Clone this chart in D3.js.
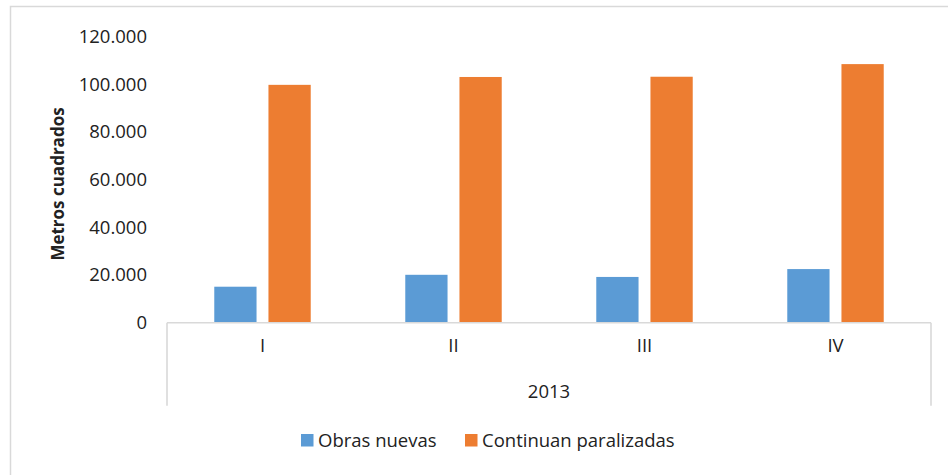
<!DOCTYPE html>
<html lang="es">
<head>
    <meta charset="UTF-8">
    <title>Metros cuadrados 2013</title>
    <style>
        body { margin: 0; background: #fff; }
        text { font-family: "Open Sans", sans-serif; fill: #222; }
    </style>
    <script src="https://cdnjs.cloudflare.com/ajax/libs/d3/7.8.5/d3.min.js"></script>
</head>
<body>
    <div id="chart"></div>
    <script>
        // data
        const categories = ["I", "II", "III", "IV"];
        const groupLabel = "2013";
        const seriesNames = ["Obras nuevas", "Continuan paralizadas"];
        const obrasNuevas = [15100, 20100, 19200, 22500];
        const continuanParalizadas = [99800, 103100, 103200, 108500];
        const yTicks = [0, 20000, 40000, 60000, 80000, 100000, 120000];
        const colors = ["#5b9bd5", "#ed7d31"];

        const width = 948, height = 475;
        const plot = { left: 167, right: 931, top: 36.7, bottom: 322.7 };

        const svg = d3.select("#chart").append("svg")
            .attr("width", width)
            .attr("height", height);

        // outer chart border (cropped at right / bottom)
        svg.append("rect")
            .attr("x", 10.5).attr("y", 6.5)
            .attr("width", 1000).attr("height", 1000)
            .attr("fill", "none")
            .attr("stroke", "#d9d9d9")
            .attr("stroke-width", 1.5);

        const x = d3.scaleBand()
            .domain(categories)
            .range([plot.left, plot.right]);

        const bw = x.bandwidth();
        const x1 = d3.scaleBand()
            .domain(seriesNames)
            .range([bw * 0.2475, bw * 0.7525])
            .paddingInner(0.22);

        const y = d3.scaleLinear()
            .domain([0, 120000])
            .range([plot.bottom, plot.top]);

        const fmt = d3.formatLocale({ decimal: ",", thousands: ".", grouping: [3], currency: ["", ""] }).format(",.0f");

        // y axis: labels only
        const yAxis = svg.append("g")
            .attr("transform", `translate(${plot.left - 20},0)`)
            .call(d3.axisLeft(y).tickValues(yTicks).tickFormat(fmt).tickSize(0).tickPadding(0));
        yAxis.select(".domain").remove();
        yAxis.selectAll("text")
            .style("font-family", "Open Sans, sans-serif")
            .style("font-size", "18.5px")
            .attr("fill", "#222");

        // bars
        const rows = categories.map((c, i) => ({ cat: c, values: [obrasNuevas[i], continuanParalizadas[i]] }));
        svg.append("g").selectAll("g")
            .data(rows)
            .join("g")
            .attr("transform", d => `translate(${x(d.cat)},0)`)
            .selectAll("rect")
            .data(d => d.values.map((v, j) => ({ key: seriesNames[j], value: v, j: j })))
            .join("rect")
            .attr("x", d => x1(d.key))
            .attr("width", x1.bandwidth())
            .attr("y", d => y(d.value))
            .attr("height", d => y(0) - y(d.value))
            .attr("fill", d => colors[d.j]);

        // category axis line and outer group separators
        const axisG = svg.append("g").attr("stroke", "#d9d9d9").attr("stroke-width", 1.6);
        axisG.append("line")
            .attr("x1", plot.left).attr("x2", plot.right)
            .attr("y1", y(0)).attr("y2", y(0));
        axisG.selectAll("line.sep")
            .data(x.range())
            .join("line")
            .attr("class", "sep")
            .attr("x1", d => d).attr("x2", d => d)
            .attr("y1", y(0)).attr("y2", y(0) + 83);

        // category labels
        const xAxis = svg.append("g")
            .attr("transform", `translate(0,${y(0)})`)
            .call(d3.axisBottom(x).tickSize(0).tickPadding(16));
        xAxis.select(".domain").remove();
        xAxis.selectAll("text")
            .style("font-family", "Open Sans, sans-serif")
            .style("font-size", "18.5px")
            .attr("fill", "#222");

        // group label
        svg.append("text")
            .attr("x", (plot.left + plot.right) / 2)
            .attr("y", 398)
            .attr("text-anchor", "middle")
            .style("font-size", "18.5px")
            .text(groupLabel);

        // y axis title
        svg.append("text")
            .attr("transform", `translate(64,184) rotate(-90)`)
            .attr("text-anchor", "middle")
            .style("font-size", "17px")
            .style("font-weight", "bold")
            .text("Metros cuadrados");

        // legend
        const legend = svg.append("g").attr("transform", "translate(301,434)");
        const lx = [0, 164];
        const item = legend.selectAll("g")
            .data(seriesNames)
            .join("g")
            .attr("transform", (d, i) => `translate(${lx[i]},0)`);
        item.append("rect")
            .attr("width", 12.5).attr("height", 12.5)
            .attr("fill", (d, i) => colors[i]);
        item.append("text")
            .attr("x", 17).attr("y", 13)
            .style("font-size", "18.5px")
            .text(d => d);
    </script>
</body>
</html>
